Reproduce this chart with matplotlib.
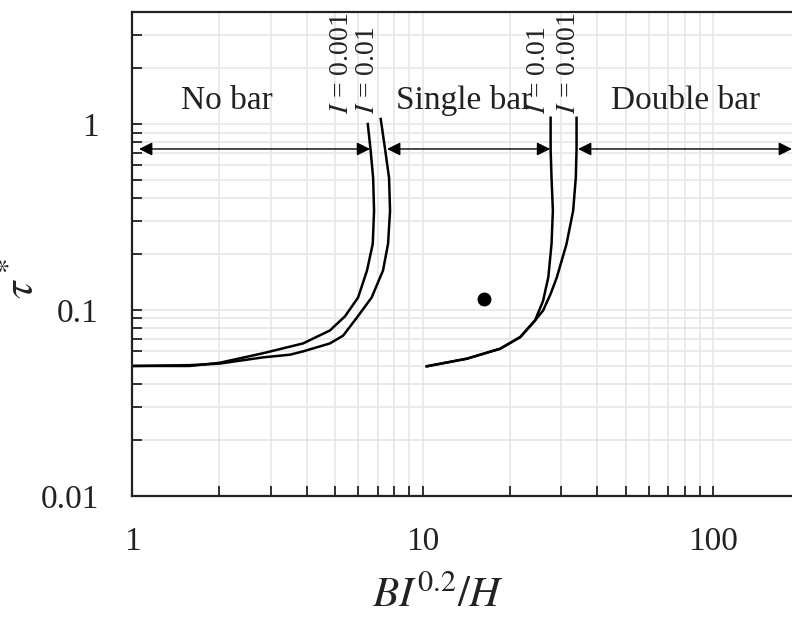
import matplotlib
matplotlib.use("Agg")
import matplotlib.pyplot as plt
from matplotlib.ticker import LogLocator, FuncFormatter, NullFormatter

plt.rcParams["font.family"] = ["Liberation Serif", "DejaVu Serif"]
plt.rcParams["mathtext.fontset"] = "stix"

# No bar / single bar boundary
nb_x_001 = [1.0, 1.58, 2.0, 2.82, 3.88, 4.80, 5.41, 6.0, 6.44, 6.74, 6.81, 6.76, 6.62, 6.48]
nb_y_001 = [0.050, 0.050, 0.052, 0.0585, 0.0661, 0.0776, 0.0925, 0.1167, 0.163, 0.227, 0.342, 0.513, 0.734, 1.0]
nb_x_01 = [1.0, 1.58, 2.0, 2.82, 3.5, 3.88, 4.80, 5.33, 5.95, 6.68, 7.31, 7.61, 7.73, 7.67, 7.43, 7.18]
nb_y_01 = [0.050, 0.0505, 0.0515, 0.0556, 0.0575, 0.0599, 0.0661, 0.0728, 0.0912, 0.1167, 0.163, 0.227, 0.342, 0.513, 0.734, 1.064]

# Single bar / double bar boundary
sd_x_01 = [10.34, 14.2, 18.5, 21.7, 24.4, 26.0, 27.1, 27.8, 28.1, 27.8, 27.6, 27.6]
sd_y_01 = [0.0498, 0.0547, 0.0619, 0.0715, 0.0879, 0.112, 0.150, 0.226, 0.342, 0.515, 0.732, 1.08]
sd_x_001 = [10.34, 14.2, 18.5, 21.7, 24.4, 26.0, 27.6, 29.0, 31.3, 33.0, 33.7, 33.9, 33.9]
sd_y_001 = [0.0498, 0.0547, 0.0619, 0.0715, 0.0879, 0.0993, 0.122, 0.150, 0.226, 0.342, 0.515, 0.732, 1.08]

point_x = [16.3]
point_y = [0.115]

regions = ["No bar", "Single bar", "Double bar"]
region_x = [2.12, 13.9, 80.7]
region_y = 1.33
arrow_spans = [(1.057, 6.6), (7.55, 27.5), (34.3, 187)]
arrow_y = 0.734

curve_labels = [r"$I$ = 0.001", r"$I$ = 0.01", r"$I$ = 0.01", r"$I$ = 0.001"]
curve_label_x = [5.28, 6.49, 25.0, 31.7]
curve_label_y = 1.13

fig = plt.figure(figsize=(7.92, 6.23), dpi=100)
ax = fig.add_axes([0.1667, 0.2039, 1.0 - 0.1667, 0.9807 - 0.2039])
ax.set_xscale("log")
ax.set_yscale("log")
ax.set_xlim(1, 187)
ax.set_ylim(0.01, 4)

ax.grid(True, which="both", color="#e6e6e6", lw=1.2)
ax.set_axisbelow(True)

for xs, ys in [(nb_x_001, nb_y_001), (nb_x_01, nb_y_01), (sd_x_01, sd_y_01), (sd_x_001, sd_y_001)]:
    ax.plot(xs, ys, color="black", lw=1.8)

ax.plot(point_x, point_y, "o", color="black", ms=9)

for x0, x1 in arrow_spans:
    ax.annotate("", xy=(x1, arrow_y), xytext=(x0, arrow_y),
                arrowprops=dict(arrowstyle="<|-|>", color="black", lw=1,
                                mutation_scale=20, shrinkA=0, shrinkB=0),
                annotation_clip=False)

for name, x in zip(regions, region_x):
    ax.text(x, region_y, name, fontsize=24, ha="center", va="center", color="#222222")

for lab, x in zip(curve_labels, curve_label_x):
    ax.text(x, curve_label_y, lab, fontsize=20, rotation=90, ha="center", va="bottom", color="#222222")

ax.xaxis.set_major_locator(LogLocator(base=10))
ax.yaxis.set_major_locator(LogLocator(base=10))
ax.xaxis.set_minor_locator(LogLocator(base=10, subs=range(2, 10)))
ax.yaxis.set_minor_locator(LogLocator(base=10, subs=range(2, 10)))
fmt = FuncFormatter(lambda v, p: "%g" % v)
ax.xaxis.set_major_formatter(fmt)
ax.yaxis.set_major_formatter(fmt)
ax.xaxis.set_minor_formatter(NullFormatter())
ax.yaxis.set_minor_formatter(NullFormatter())

ax.tick_params(which="both", direction="in", length=7, width=1.3, color="#222222")
ax.tick_params(axis="x", which="major", labelsize=24, pad=22, labelcolor="#222222")
ax.tick_params(axis="y", which="major", labelsize=24, pad=24, labelcolor="#222222")

ax.spines["right"].set_visible(False)
for s in ["left", "bottom", "top"]:
    ax.spines[s].set_linewidth(1.6)
    ax.spines[s].set_color("#222222")

ax.set_xlabel(r"$BI^{0.2}/H$", fontsize=31, color="#222222")
ax.xaxis.set_label_coords(0.464, -0.165)
ax.set_ylabel(r"$\tau^*$", fontsize=32, color="#222222")
ax.yaxis.set_label_coords(-0.136, 0.45)

fig.savefig("out.png", dpi=100)
